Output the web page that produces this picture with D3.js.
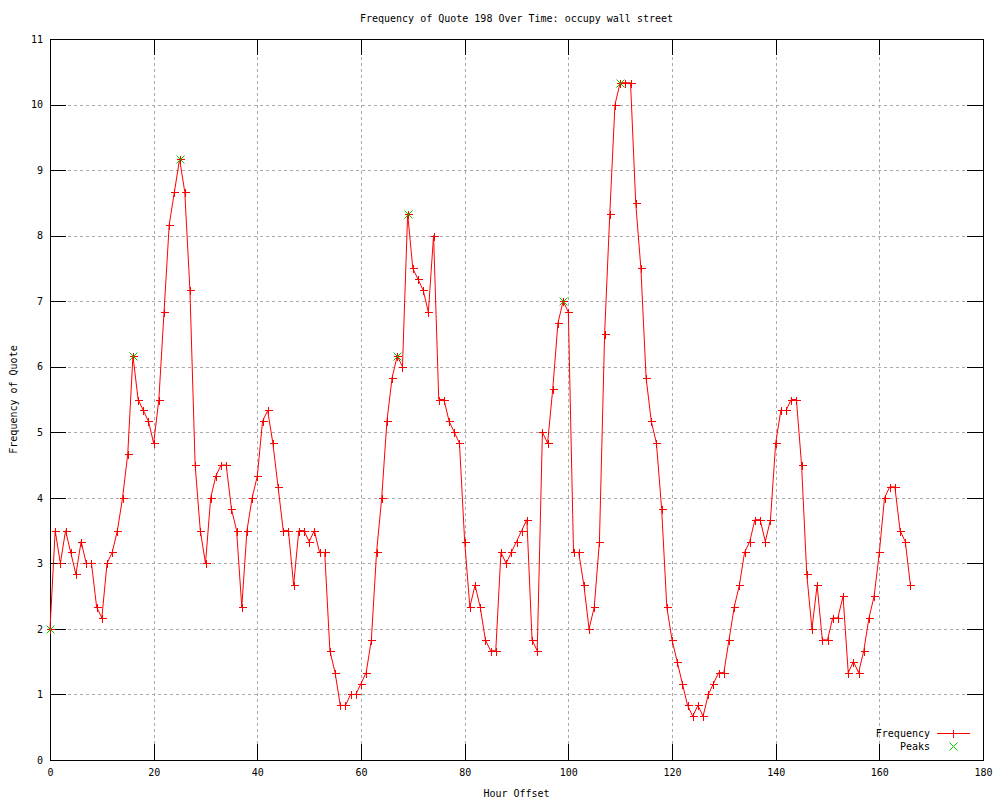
<!DOCTYPE html>
<html>
<head>
<meta charset="utf-8">
<script src="https://cdn.jsdelivr.net/npm/d3@7/dist/d3.min.js"></script>
<style>
  body { margin: 0; background: #fff; }
  text { font-family: "DejaVu Sans Mono", "Liberation Mono", monospace; font-size: 10px; fill: #000; }
</style>
</head>
<body>
<div id="chart"></div>
<script>
// Hour offsets and frequency readings (frequency is in sixths)
const hours = [
  0, 1, 2, 3, 4, 5, 6, 7, 8, 9, 10, 11, 12, 13, 14, 15, 16, 17, 18, 19,
  20, 21, 22, 23, 24, 25, 26, 27, 28, 29, 30, 31, 32, 33, 34, 35, 36, 37, 38, 39,
  40, 41, 42, 43, 44, 45, 46, 47, 48, 49, 50, 51, 52, 53, 54, 55, 56, 57, 58, 59,
  60, 61, 62, 63, 64, 65, 66, 67, 68, 69, 70, 71, 72, 73, 74, 75, 76, 77, 78, 79,
  80, 81, 82, 83, 84, 85, 86, 87, 88, 89, 90, 91, 92, 93, 94, 95, 96, 97, 98, 99,
  100, 101, 102, 103, 104, 105, 106, 107, 108, 109, 110, 111, 112, 113, 114, 115, 116, 117, 118, 119,
  120, 121, 122, 123, 124, 125, 126, 127, 128, 129, 130, 131, 132, 133, 134, 135, 136, 137, 138, 139,
  140, 141, 142, 143, 144, 145, 146, 147, 148, 149, 150, 151, 152, 153, 154, 155, 156, 157, 158, 159,
  160, 161, 162, 163, 164, 165, 166
];
const freq = [
  2, 3.5, 3, 3.5, 3.167, 2.833, 3.333, 3, 3, 2.333, 2.167, 3, 3.167, 3.5, 4, 4.667, 6.167, 5.5, 5.333, 5.167,
  4.833, 5.5, 6.833, 8.167, 8.667, 9.167, 8.667, 7.167, 4.5, 3.5, 3, 4, 4.333, 4.5, 4.5, 3.833, 3.5, 2.333, 3.5, 4,
  4.333, 5.167, 5.333, 4.833, 4.167, 3.5, 3.5, 2.667, 3.5, 3.5, 3.333, 3.5, 3.167, 3.167, 1.667, 1.333, 0.833, 0.833, 1, 1,
  1.167, 1.333, 1.833, 3.167, 4, 5.167, 5.833, 6.167, 6, 8.333, 7.5, 7.333, 7.167, 6.833, 8, 5.5, 5.5, 5.167, 5, 4.833,
  3.333, 2.333, 2.667, 2.333, 1.833, 1.667, 1.667, 3.167, 3, 3.167, 3.333, 3.5, 3.667, 1.833, 1.667, 5, 4.833, 5.667, 6.667, 7,
  6.833, 3.167, 3.167, 2.667, 2, 2.333, 3.333, 6.5, 8.333, 10, 10.333, 10.333, 10.333, 8.5, 7.5, 5.833, 5.167, 4.833, 3.833, 2.333,
  1.833, 1.5, 1.167, 0.833, 0.667, 0.833, 0.667, 1, 1.167, 1.333, 1.333, 1.833, 2.333, 2.667, 3.167, 3.333, 3.667, 3.667, 3.333, 3.667,
  4.833, 5.333, 5.333, 5.5, 5.5, 4.5, 2.833, 2, 2.667, 1.833, 1.833, 2.167, 2.167, 2.5, 1.333, 1.5, 1.333, 1.667, 2.167, 2.5,
  3.167, 4, 4.167, 4.167, 3.5, 3.333, 2.667
];
const peakHours = [0, 16, 25, 67, 69, 99, 110];
const peakFreq = [2, 6.167, 9.167, 6.167, 8.333, 7, 10.333];

const xTicks = [0, 20, 40, 60, 80, 100, 120, 140, 160, 180];
const yTicks = [0, 1, 2, 3, 4, 5, 6, 7, 8, 9, 10, 11];

const svg = d3.select("#chart")
  .append("svg")
  .attr("width", 1000)
  .attr("height", 800);

// Margin convention
const margin = { top: 39, right: 17, bottom: 40, left: 50 },
  width = 1000 - margin.left - margin.right,
  height = 800 - margin.top - margin.bottom;

const chart = svg.append("g")
  .attr("transform", `translate(${margin.left},${margin.top})`);

const xScale = d3.scaleLinear().domain([0, 180]).range([0, width]);
const yScale = d3.scaleLinear().domain([0, 11]).range([height, 0]);

// dotted grid
chart.append("g")
  .selectAll("line")
  .data(xTicks.slice(1, -1))
  .join("line")
  .attr("x1", d => Math.round(xScale(d)) + 0.5)
  .attr("x2", d => Math.round(xScale(d)) + 0.5)
  .attr("y1", 0)
  .attr("y2", height)
  .attr("stroke", "#aaaaaa")
  .attr("stroke-dasharray", "3,3")
  .attr("shape-rendering", "crispEdges");

chart.append("g")
  .selectAll("line")
  .data(yTicks.slice(1, -1))
  .join("line")
  .attr("x1", 0)
  .attr("x2", width)
  .attr("y1", d => Math.round(yScale(d)) + 0.5)
  .attr("y2", d => Math.round(yScale(d)) + 0.5)
  .attr("stroke", "#aaaaaa")
  .attr("stroke-dasharray", "3,3")
  .attr("shape-rendering", "crispEdges");

// Axes (ticks point inwards, mirrored on top and right)
const tickLen = 16;
const xAxis = chart.append("g")
  .attr("transform", `translate(0,${height})`)
  .call(d3.axisBottom(xScale).tickValues(xTicks).tickSize(-tickLen).tickPadding(9));
const yAxis = chart.append("g")
  .call(d3.axisLeft(yScale).tickValues(yTicks).tickSize(-tickLen).tickPadding(7));
const topAxis = chart.append("g")
  .call(d3.axisTop(xScale).tickValues(xTicks).tickSize(-tickLen).tickFormat(""));
const rightAxis = chart.append("g")
  .attr("transform", `translate(${width},0)`)
  .call(d3.axisRight(yScale).tickValues(yTicks).tickSize(-tickLen).tickFormat(""));

[xAxis, yAxis, topAxis, rightAxis].forEach(a => {
  a.select(".domain").remove();
  a.selectAll("line").attr("stroke", "#000").attr("shape-rendering", "crispEdges");
  a.attr("font-family", null).attr("font-size", null);
});
svg.selectAll(".tick text").attr("fill", "#000");

// border
chart.append("rect")
  .attr("x", 0.5)
  .attr("y", 0.5)
  .attr("width", width)
  .attr("height", height)
  .attr("fill", "none")
  .attr("stroke", "#000")
  .attr("shape-rendering", "crispEdges");

// Frequency line
const points = hours.map((h, i) => ({ h: h, f: freq[i] }));

chart.append("path")
  .datum(points)
  .attr("fill", "none")
  .attr("stroke", "#ff0000")
  .attr("stroke-width", 1)
  .attr("d", d3.line().x(d => xScale(d.h)).y(d => yScale(d.f)));

chart.selectAll(".plus")
  .data(points)
  .join("path")
  .attr("class", "plus")
  .attr("transform", d => `translate(${Math.round(xScale(d.h)) + 0.5},${Math.round(yScale(d.f)) + 0.5})`)
  .attr("d", "M-4,0H4M0,-4V4")
  .attr("stroke", "#ff0000")
  .attr("fill", "none")
  .attr("shape-rendering", "crispEdges");

// Peaks
const peaks = peakHours.map((h, i) => ({ h: h, f: peakFreq[i] }));
chart.selectAll(".peak")
  .data(peaks)
  .join("path")
  .attr("class", "peak")
  .attr("transform", d => `translate(${Math.round(xScale(d.h)) + 0.5},${Math.round(yScale(d.f)) + 0.5})`)
  .attr("d", "M-4,-4L4,4M-4,4L4,-4")
  .attr("stroke", "#00cc00")
  .attr("fill", "none");

// Title and axis labels
svg.append("text")
  .attr("x", margin.left + width / 2)
  .attr("y", 22)
  .attr("text-anchor", "middle")
  .text("Frequency of Quote 198 Over Time: occupy wall street");

svg.append("text")
  .attr("x", margin.left + width / 2)
  .attr("y", 797)
  .attr("text-anchor", "middle")
  .text("Hour Offset");

svg.append("text")
  .attr("x", -(margin.top + height / 2))
  .attr("y", 17)
  .attr("transform", "rotate(-90)")
  .attr("text-anchor", "middle")
  .text("Frequency of Quote");

// Legend
const legend = svg.append("g");
legend.append("text")
  .attr("x", 930)
  .attr("y", 737)
  .attr("text-anchor", "end")
  .text("Frequency");
legend.append("line")
  .attr("x1", 937).attr("x2", 970)
  .attr("y1", 733.5).attr("y2", 733.5)
  .attr("stroke", "#ff0000")
  .attr("shape-rendering", "crispEdges");
legend.append("path")
  .attr("transform", "translate(953.5,733.5)")
  .attr("d", "M-4,0H4M0,-4V4")
  .attr("stroke", "#ff0000")
  .attr("fill", "none")
  .attr("shape-rendering", "crispEdges");
legend.append("text")
  .attr("x", 930)
  .attr("y", 750)
  .attr("text-anchor", "end")
  .text("Peaks");
legend.append("path")
  .attr("transform", "translate(953.5,746.5)")
  .attr("d", "M-4,-4L4,4M-4,4L4,-4")
  .attr("stroke", "#00cc00")
  .attr("fill", "none");
</script>
</body>
</html>
